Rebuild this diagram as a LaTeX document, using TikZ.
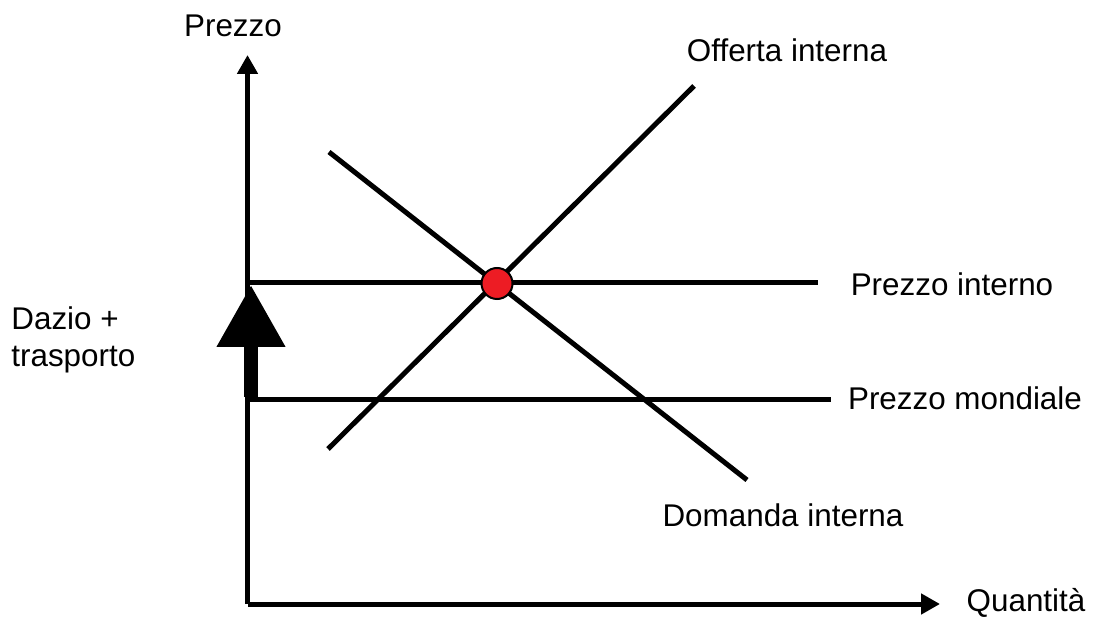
\documentclass[tikz,border=0pt]{standalone}
\usepackage{fontspec}
\setmainfont{Liberation Sans}
\usetikzlibrary{arrows.meta}
\definecolor{dotred}{RGB}{237,28,36}

\begin{document}
\begin{tikzpicture}[x=0.5pt, y=-0.5pt,
    curve/.style ={line width=2.5pt},
    axis/.style ={line width=2.5pt, -{Triangle[width=10pt, length=9.5pt]}},
    equilibrium/.style ={circle, draw, line width=1pt, fill=dotred, minimum size=15.5pt, inner sep=0pt},
    lbl/.style ={font=\fontsize{15.7}{18.5}\selectfont, inner sep=0pt}]
   \useasboundingbox (0,0) rectangle (1096,619);
   \coordinate (O) at (247.5,604);
   \coordinate (Ytop) at (247.5,55);
   \coordinate (Xend) at (940,604);
   \draw[axis] (O) to (Ytop);
   \draw[axis] (O) to (Xend);
   \node[lbl] (P) at (233,26) {Prezzo};
   \node[lbl] (Q) at (1026,603) {Quantità};
   % prices
   \coordinate (I1) at (245,283);
   \coordinate (I2) at (818,283);
   \coordinate (M1) at (245,400);
   \coordinate (M2) at (831,400);
   \draw[curve] (I1) to (I2);
   \draw[curve] (M1) to (M2);
   \node[lbl] (PI) at (952,284) {Prezzo interno};
   \node[lbl] (PM) at (965,398) {Prezzo mondiale};
   % supply and demand
   \coordinate (S1) at (328,449);
   \coordinate (S2) at (694,86);
   \coordinate (D1) at (329,152);
   \coordinate (D2) at (747,480);
   \draw[curve] (S1) to (S2);
   \draw[curve] (D1) to (D2);
   \node[lbl] (SL) at (787,50) {Offerta interna};
   \node[lbl] (DL) at (783,515) {Domanda interna};
   \node[equilibrium] (E) at (497,283.5) {};
   % tariff
   \coordinate (T1) at (251,397);
   \coordinate (T2) at (251,285);
   \draw[line width=7pt, -{Triangle[width=32.5pt, length=31pt]}] (T1) to (T2);
   \node[lbl, anchor=west, align=left] (T) at (11,340) {Dazio +\\trasporto};
\end{tikzpicture}
\end{document}
